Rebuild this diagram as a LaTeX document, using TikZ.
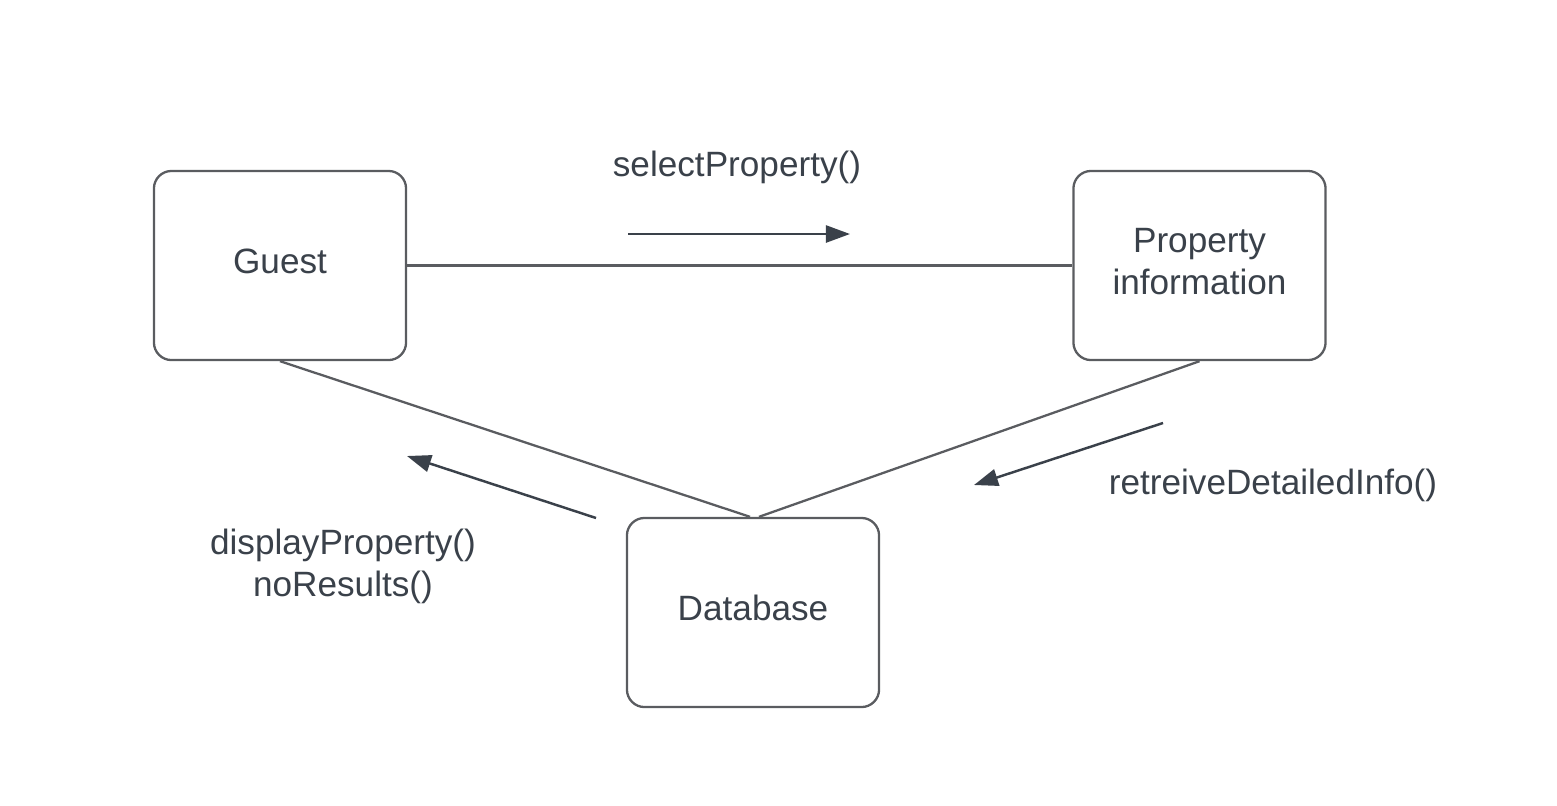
\documentclass[tikz,border=0pt]{standalone}
\usepackage{fontspec}
\setmainfont{Liberation Sans}
\usetikzlibrary{arrows.meta, positioning}
\definecolor{linecol}{RGB}{90, 92, 96}
\definecolor{textcol}{RGB}{58, 65, 74}

\begin{document}
\begin{tikzpicture}[
    x=0.01cm, y=-0.01cm,
    box/.style = {rectangle, rounded corners=5pt, minimum width=2.52cm, minimum height=1.89cm,
                  text centered, draw=linecol, line width=0.65pt, fill=white, text=textcol,
                  font=\fontsize{10}{12}\selectfont, align=center, text depth=0.09cm},
    link/.style = {draw=linecol, line width=0.65pt},
    msgarrow/.style = {draw=linecol, line width=0.7pt, -{Triangle[length=0.24cm, width=0.17cm]}, textcol},
    label/.style = {text=textcol, font=\fontsize{10}{12}\selectfont, align=center}
]
    \useasboundingbox (0,0) rectangle (1557,805);

    % Objects
    \node[box] (guest) at (280,265.5) {Guest};
    \node[box] (propinfo) at (1199.5,265.5) {Property\\[0pt]information};
    \node[box] (db) at (753,612.5) {Database};

    % Links
    \draw[link] (guest.east) -- (propinfo.west);
    \draw[link] (guest.south) -- ([xshift=-0.03cm]db.north);
    \draw[link] (propinfo.south) -- ([xshift=0.06cm]db.north);

    % Message: selectProperty
    \coordinate (sel_a) at (628,234);
    \coordinate (sel_b) at (850,234);
    \draw[msgarrow] (sel_a) -- (sel_b);
    \node[label] (sel_lbl) at (737,167) {selectProperty()};

    % Message: displayProperty / noResults
    \coordinate (disp_a) at (596,518);
    \coordinate (disp_b) at (407,456);
    \draw[msgarrow] (disp_a) -- (disp_b);
    \node[label] (disp_lbl) at (343,566) {displayProperty()\\[0pt]noResults()};

    % Message: retreiveDetailedInfo
    \coordinate (ret_a) at (1163,423);
    \coordinate (ret_b) at (974,485);
    \draw[msgarrow] (ret_a) -- (ret_b);
    \node[label] (ret_lbl) at (1273,485) {retreiveDetailedInfo()};

\end{tikzpicture}
\end{document}
